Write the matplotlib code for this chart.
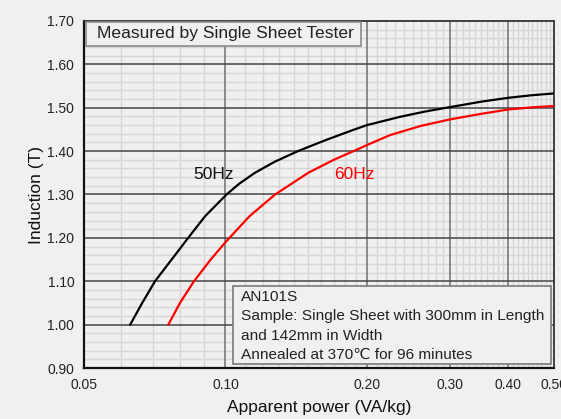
import numpy as np
import matplotlib
matplotlib.use("Agg")
import matplotlib.pyplot as plt
from matplotlib.ticker import FixedLocator, NullFormatter
from matplotlib.patches import Rectangle

plt.rcParams['font.family'] = ['Liberation Sans', 'DejaVu Sans']

# Data
x50 = [0.0627, 0.0665, 0.0708, 0.0768, 0.0833, 0.0905, 0.1005, 0.107, 0.1155, 0.127, 0.1426,
       0.163, 0.186, 0.200, 0.235, 0.265, 0.295, 0.350, 0.400, 0.450, 0.500]
y50 = [1.000, 1.050, 1.100, 1.150, 1.200, 1.250, 1.300, 1.325, 1.350, 1.375, 1.400,
       1.425, 1.448, 1.460, 1.479, 1.491, 1.500, 1.514, 1.523, 1.529, 1.533]
x60 = [0.0756, 0.080, 0.0857, 0.0930, 0.100, 0.1125, 0.1275, 0.150, 0.170, 0.190, 0.200,
       0.224, 0.260, 0.300, 0.350, 0.400, 0.450, 0.500]
y60 = [1.000, 1.050, 1.100, 1.150, 1.190, 1.250, 1.300, 1.350, 1.380, 1.403, 1.414,
       1.437, 1.458, 1.473, 1.486, 1.496, 1.501, 1.504]

xticks = [0.05, 0.10, 0.20, 0.30, 0.40, 0.50]
xticklabels = ["0.05", "0.10", "0.20", "0.30", "0.40", "0.50"]
yticks = [0.90, 1.00, 1.10, 1.20, 1.30, 1.40, 1.50, 1.60, 1.70]
yticklabels = ["0.90", "1.00", "1.10", "1.20", "1.30", "1.40", "1.50", "1.60", "1.70"]
xminor = [round(v, 2) for v in np.arange(0.06, 0.50, 0.01)]
yminor = [round(v, 2) for v in np.arange(0.92, 1.70, 0.02)]

info_lines = ["AN101S",
              "Sample: Single Sheet with 300mm in Length",
              "and 142mm in Width",
              "Annealed at 370\u2103 for 96 minutes"]

bg = '#eff0ef'
fig = plt.figure(figsize=(5.61, 4.19), dpi=100, facecolor=bg)
ax = fig.add_axes([84/561, 1-368/419, (554-84)/561, (368-21)/419], facecolor=bg)

ax.set_xscale('log')
ax.set_xlim(0.05, 0.5)
ax.set_ylim(0.90, 1.70)

# grid
for v in xminor:
    if v in (0.1, 0.2, 0.3, 0.4):
        continue
    ax.axvline(v, color='#d5d6d5', lw=1.0, zorder=0)
for v in yminor:
    if abs(v*10 - round(v*10)) < 1e-6:
        continue
    ax.axhline(v, color='#d5d6d5', lw=1.0, zorder=0)
for v in [0.1, 0.2, 0.3, 0.4]:
    ax.axvline(v, color='#707070', lw=1.1, zorder=1)
for v in yticks[1:-1]:
    ax.axhline(v, color='#454545', lw=1.1, zorder=1)

ax.xaxis.set_major_locator(FixedLocator(xticks))
ax.set_xticklabels(xticklabels)
ax.xaxis.set_minor_locator(FixedLocator([]))
ax.xaxis.set_minor_formatter(NullFormatter())
ax.set_yticks(yticks)
ax.set_yticklabels(yticklabels)
ax.tick_params(axis='both', which='both', length=0, labelsize=10, colors='#222222', pad=7)

for s in ['left', 'bottom']:
    ax.spines[s].set_color('#111111')
    ax.spines[s].set_linewidth(1.6)
for s in ['top', 'right']:
    ax.spines[s].set_color('#333333')
    ax.spines[s].set_linewidth(1.3)

ax.plot(x50, y50, color='black', lw=1.6, zorder=3, solid_joinstyle='round')
ax.plot(x60, y60, color='#ff0000', lw=1.6, zorder=3, solid_joinstyle='round')

ax.text(0.0945, 1.345, "50Hz", fontsize=12.5, color='#111111', ha='center', va='center', zorder=4)
ax.text(0.1877, 1.345, "60Hz", fontsize=12.5, color='#ff0000', ha='center', va='center', zorder=4)

ax.set_xlabel("Apparent power (VA/kg)", fontsize=12.5, color='#111111', labelpad=6)
ax.set_ylabel("Induction (T)", fontsize=12.5, color='#111111', labelpad=2)

# title box
ax.add_patch(Rectangle((0.004, 0.929), 0.585, 0.068, transform=ax.transAxes,
                       fc=bg, ec='#8a8a8a', lw=1.2, zorder=5))
ax.text(0.0277, 0.963, "Measured by Single Sheet Tester", transform=ax.transAxes,
        fontsize=12.6, color='#222222', ha='left', va='center', zorder=6)

# info box
ax.add_patch(Rectangle((0.316, 0.0115), 0.6776, 0.2248, transform=ax.transAxes,
                       fc=bg, ec='#7a7a7a', lw=1.2, zorder=5))
for i, line in enumerate(info_lines):
    ypx = [296.7, 316.0, 335.5, 355.0][i]
    ax.text(0.334, (368 - ypx) / 347, line, transform=ax.transAxes,
            fontsize=11.1, color='#222222', ha='left', va='center', zorder=6)

fig.savefig('out.png', dpi=100, facecolor=bg)
